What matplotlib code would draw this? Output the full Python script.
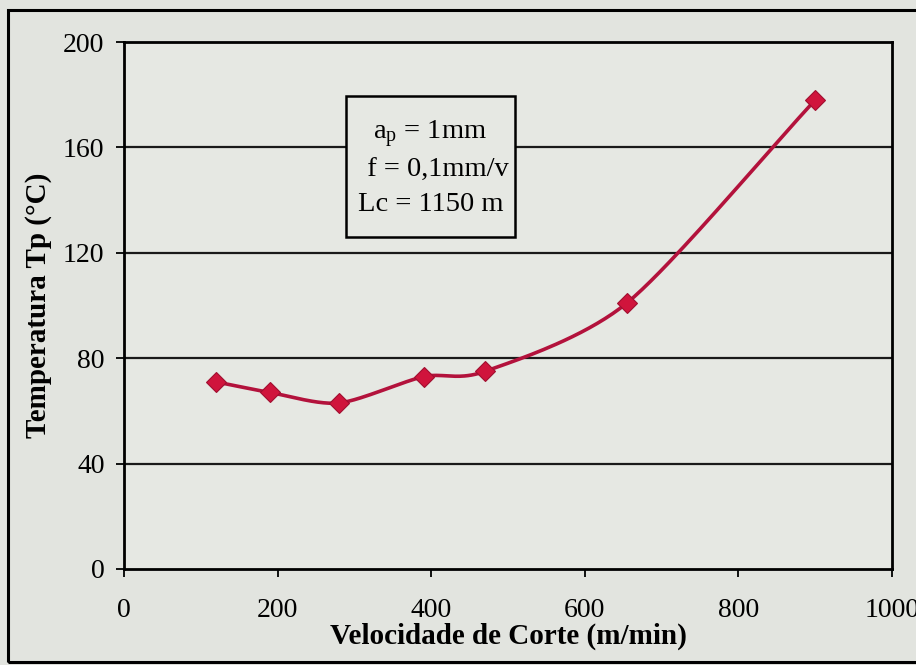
import numpy as np
import matplotlib
matplotlib.use("Agg")
import matplotlib.pyplot as plt
from matplotlib.patches import Rectangle

plt.rcParams["font.family"] = ["Liberation Serif", "DejaVu Serif"]
plt.rcParams["mathtext.fontset"] = "custom"
plt.rcParams["mathtext.rm"] = "Liberation Serif"
plt.rcParams["mathtext.it"] = "Liberation Serif:italic"

# Cutting speed vs. tool temperature
velocidade = [120, 190, 280, 390, 470, 655, 900]
temperatura = [71, 67, 63, 73, 75, 101, 178]
x_ticks = [0, 200, 400, 600, 800, 1000]
y_ticks = [0, 40, 80, 120, 160, 200]

bg = "#e2e4df"
line_col = "#b3123c"
marker_col = "#d0143c"


def smooth_curve(xs, ys, n=40, k=0.8):
    """Cubic Hermite curve through the points (Catmull-Rom style tangents)."""
    p = np.column_stack([xs, ys]).astype(float)
    ext = np.vstack([2 * p[0] - p[1], p, 2 * p[-1] - p[-2]])
    tang = k * 0.5 * (ext[2:] - ext[:-2])
    out = []
    t = np.linspace(0, 1, n)[:, None]
    h00 = 2 * t ** 3 - 3 * t ** 2 + 1
    h10 = t ** 3 - 2 * t ** 2 + t
    h01 = -2 * t ** 3 + 3 * t ** 2
    h11 = t ** 3 - t ** 2
    for i in range(len(p) - 1):
        seg = h00 * p[i] + h10 * tang[i] + h01 * p[i + 1] + h11 * tang[i + 1]
        out.append(seg if i == 0 else seg[1:])
    s = np.vstack(out)
    return s[:, 0], s[:, 1]


fig = plt.figure(figsize=(9.16, 6.65), dpi=100, facecolor=bg)
ax = fig.add_axes([0.1354, 0.1444, 0.8384, 0.7924])
ax.set_facecolor("#e6e8e3")

# outer frame of the chart
fig.patches.append(Rectangle((8 / 916, 3 / 665), 1.2, 652 / 665,
                             transform=fig.transFigure, fill=False,
                             edgecolor="black", linewidth=2.2, zorder=0))

for yv in y_ticks[1:-1]:
    ax.axhline(yv, color="#1a1a1a", linewidth=1.6, zorder=1)

sx, sy = smooth_curve(velocidade, temperatura)
ax.plot(sx, sy, color=line_col, linewidth=2.6, zorder=3)
ax.plot(velocidade, temperatura, linestyle="none", marker="D",
        markersize=10, color=marker_col, markeredgecolor="#a00f30",
        markeredgewidth=0.8, zorder=4)

ax.set_xlim(0, 1000)
ax.set_ylim(0, 200)
ax.set_xticks(x_ticks)
ax.set_yticks(y_ticks)
ax.tick_params(axis="both", direction="out", length=6, width=1.3,
               labelsize=20, colors="black")
ax.tick_params(axis="x", pad=15)
ax.tick_params(axis="y", pad=8)
for sp in ax.spines.values():
    sp.set_linewidth(2.0)
    sp.set_color("black")

ax.set_xlabel("Velocidade de Corte (m/min)", fontsize=21, fontweight="bold",
              labelpad=0)
ax.set_ylabel("Temperatura Tp (°C)", fontsize=21, fontweight="bold",
              labelpad=8)

# cutting-condition note in a framed box
ax.add_patch(Rectangle((0.289, 0.630), 0.220, 0.2675, transform=ax.transAxes,
                       facecolor="#e6e8e3", edgecolor="black", linewidth=1.8,
                       zorder=5))
ax.text(0.399, 0.762,
        "a$_\\mathrm{p}$ = 1mm\n  f = 0,1mm/v\nLc = 1150 m",
        transform=ax.transAxes, ha="center", va="center", fontsize=20.5,
        linespacing=1.45, zorder=6)

fig.savefig("out.png", dpi=100, facecolor=bg)
